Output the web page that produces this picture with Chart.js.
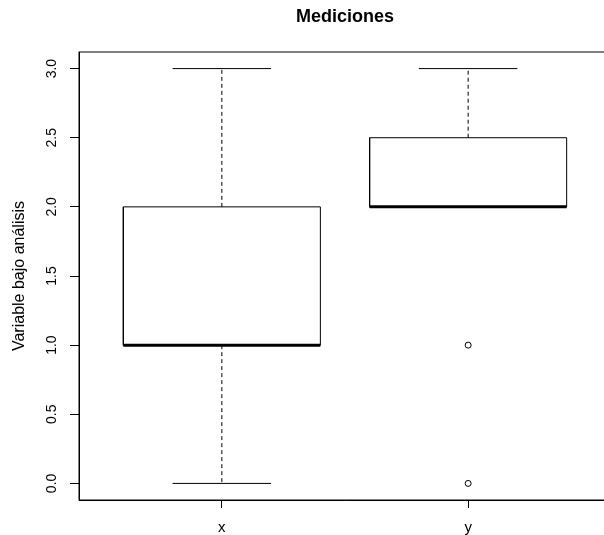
<!DOCTYPE html>
<html>
<head>
<meta charset="utf-8">
<title>Mediciones</title>
<script src="https://cdn.jsdelivr.net/npm/chart.js@4/dist/chart.umd.min.js"></script>
<style>
  html, body { margin: 0; padding: 0; background: #fff; overflow: hidden; }
  #wrap { width: 604px; height: 535px; overflow: hidden; }
  canvas { display: block; }
</style>
</head>
<body>
<div id="wrap"><canvas id="boxChart" width="620" height="535"></canvas></div>
<script>
// five-number summaries
const categories = ['x', 'y'];
const lowerWhisker = [0, 2];
const lowerHinge = [1, 2];
const medians = [1, 2];
const upperHinge = [2, 2.5];
const upperWhisker = [3, 3];
const outliers = [[], [1, 0]];
const yTicks = [0, 0.5, 1, 1.5, 2, 2.5, 3];

document.addEventListener("DOMContentLoaded", () => {
  Chart.defaults.font.family = "'Liberation Sans', Arial, sans-serif";
  Chart.defaults.color = '#000';

  const halfBox = 0.4;   // box half width in axis units
  const halfCap = 0.2;   // staple half width

  // build polylines, with a null point to break between pieces
  const boxPts = [], medPts = [], whiskPts = [], capPts = [], outPts = [];
  const seg = (arr, x1, y1, x2, y2) => {
    arr.push({x: x1, y: y1}, {x: x2, y: y2}, {x: x2, y: null});
  };
  categories.forEach((c, i) => {
    const cx = i + 1;
    boxPts.push(
      {x: cx - halfBox, y: lowerHinge[i]}, {x: cx + halfBox, y: lowerHinge[i]},
      {x: cx + halfBox, y: upperHinge[i]}, {x: cx - halfBox, y: upperHinge[i]},
      {x: cx - halfBox, y: lowerHinge[i]}, {x: cx, y: null}
    );
    seg(medPts, cx - halfBox, medians[i], cx + halfBox, medians[i]);
    seg(whiskPts, cx, upperHinge[i], cx, upperWhisker[i]);
    seg(whiskPts, cx, lowerHinge[i], cx, lowerWhisker[i]);
    seg(capPts, cx - halfCap, upperWhisker[i], cx + halfCap, upperWhisker[i]);
    seg(capPts, cx - halfCap, lowerWhisker[i], cx + halfCap, lowerWhisker[i]);
    outliers[i].forEach(v => outPts.push({x: cx, y: v}));
  });

  const lineSet = (data, extra) => Object.assign({
    data: data,
    showLine: true,
    borderColor: '#000',
    borderWidth: 1,
    pointRadius: 0,
    pointHoverRadius: 0,
    spanGaps: false,
    fill: false,
    tension: 0,
    borderJoinStyle: 'miter',
    borderCapStyle: 'square'
  }, extra);

  // plot frame (R draws a full box round the plot)
  const frame = {
    id: 'frame',
    afterDatasetsDraw(chart) {
      const a = chart.chartArea, ctx = chart.ctx;
      ctx.save();
      ctx.strokeStyle = '#000';
      ctx.lineWidth = 1;
      ctx.strokeRect(a.left, a.top, a.right - a.left, a.bottom - a.top);
      ctx.restore();
    }
  };

  const ctx = document.getElementById('boxChart').getContext('2d');
  new Chart(ctx, {
    type: 'scatter',
    data: {
      datasets: [
        lineSet(medPts, {borderWidth: 3, borderCapStyle: 'butt', order: 0}),
        lineSet(boxPts, {order: 2}),
        lineSet(whiskPts, {borderDash: [4, 3], borderCapStyle: 'butt', order: 3}),
        lineSet(capPts, {borderCapStyle: 'butt', order: 3}),
        {
          data: outPts,
          showLine: false,
          pointRadius: 3,
          pointHoverRadius: 3,
          pointStyle: 'circle',
          pointBackgroundColor: '#fff',
          pointBorderColor: '#000',
          pointBorderWidth: 1,
          order: 0
        }
      ]
    },
    options: {
      responsive: false,
      animation: false,
      devicePixelRatio: 1,
      layout: { padding: { left: 0, right: 9, top: 0, bottom: 0 } },
      plugins: {
        legend: { display: false },
        tooltip: { enabled: false },
        title: {
          display: true,
          fullSize: false,
          text: 'Mediciones',
          color: '#000',
          font: { size: 18, weight: 'bold' },
          padding: { top: 6, bottom: 24.4 }
        }
      },
      scales: {
        x: {
          type: 'linear',
          min: 0.42,
          max: 2.58,
          afterBuildTicks: scale => { scale.ticks = categories.map((c, i) => ({value: i + 1})); },
          afterFit: scale => { scale.height = 35; },
          ticks: {
            callback: v => categories[v - 1],
            font: { size: 15 },
            color: '#000',
            padding: 11,
            maxRotation: 0
          },
          grid: { drawOnChartArea: false, drawTicks: true, tickLength: 8, tickColor: '#000' },
          border: { display: true, color: '#000' }
        },
        y: {
          type: 'linear',
          min: -0.12,
          max: 3.12,
          afterBuildTicks: scale => { scale.ticks = yTicks.map(v => ({value: v})); },
          afterFit: scale => { scale.width = 79; },
          ticks: {
            callback: v => Number(v).toFixed(1),
            font: { size: 14 },
            color: '#000',
            minRotation: 90,
            maxRotation: 90,
            crossAlign: 'center',
            padding: 8
          },
          grid: { drawOnChartArea: false, drawTicks: true, tickLength: 9, tickColor: '#000' },
          border: { display: true, color: '#000' },
          title: {
            display: true,
            text: 'Variable bajo análisis',
            color: '#000',
            font: { size: 16 },
            padding: { top: 10, bottom: 0 }
          }
        }
      }
    },
    plugins: [frame]
  });
});
</script>
</body>
</html>
